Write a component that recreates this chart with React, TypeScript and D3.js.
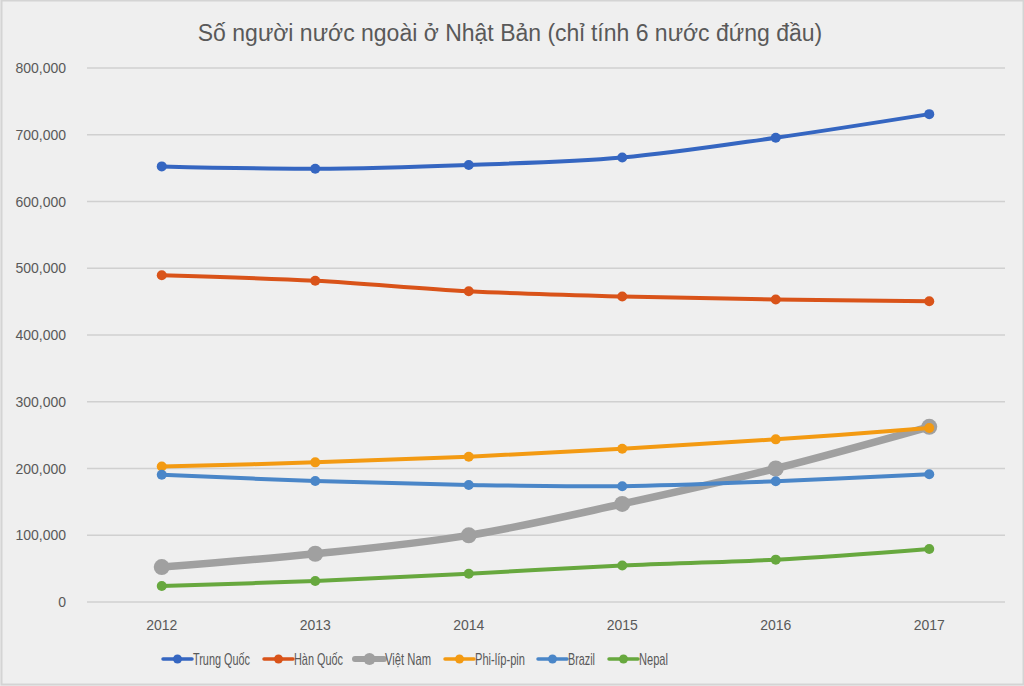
import React from "react";
import * as d3 from "d3";

const years = ["2012", "2013", "2014", "2015", "2016", "2017"];
const yTicks = [0, 100000, 200000, 300000, 400000, 500000, 600000, 700000, 800000];

const trungQuoc = [652595, 649078, 654777, 665847, 695522, 730890];
const hanQuoc = [489431, 481249, 465477, 457772, 453096, 450663];
const vietNam = [52367, 72256, 99865, 146956, 199990, 262405];
const philippines = [202985, 209183, 217585, 229595, 243662, 260553];
const brazil = [190609, 181317, 175410, 173437, 180923, 191362];
const nepal = [24071, 31537, 42346, 54775, 63470, 79500];

const seriesNames = ["Trung Quốc", "Hàn Quốc", "Việt Nam", "Phi-líp-pin", "Brazil", "Nepal"];
const seriesValues = [trungQuoc, hanQuoc, vietNam, philippines, brazil, nepal];
const seriesColors = ["#3566c1", "#d95319", "#a0a0a0", "#f39a12", "#4a86c8", "#67a83e"];
const seriesWidths = [4, 4, 7.5, 4, 4, 4];
const markerR = [5, 5, 8, 5, 5, 5];
const legendX = [163, 264, 355, 445, 538, 609];
const legendTextW = [57, 49, 46, 50, 27, 29];

const W = 1024;
const H = 686;
const font = "'Liberation Sans', Arial, sans-serif";
const textColor = "#595959";

export default function App() {
  const x = d3.scaleBand<string>().domain(years).range([85, 1006]);
  const y = d3.scaleLinear().domain([0, 800000]).range([602, 68]);
  const line = d3
    .line<number>()
    .x((_, i) => (x(years[i]) as number) + x.bandwidth() / 2)
    .y((d) => y(d))
    .curve(d3.curveCardinal.tension(0));
  const fmt = d3.format(",");

  return (
    <svg
      width={W}
      height={H}
      style={{ position: "absolute", left: 0, top: 0, display: "block" }}
      fontFamily={font}
    >
      <rect x={0} y={0} width={W} height={H} fill="#efefef" />
      <rect x={1.5} y={0.5} width={W - 2} height={H - 2} fill="none" stroke="#d4d4d4" strokeWidth={2} />
      <text x={510} y={41} textAnchor="middle" fontSize={23} fill={textColor}>
        Số người nước ngoài ở Nhật Bản (chỉ tính 6 nước đứng đầu)
      </text>
      {yTicks.map((t) => (
        <g key={t}>
          <line x1={87} x2={1005} y1={y(t)} y2={y(t)} stroke="#d0d0d0" strokeWidth={1.5} />
          <text x={66} y={y(t) + 5} textAnchor="end" fontSize={14} fill={textColor}>
            {fmt(t)}
          </text>
        </g>
      ))}
      {years.map((yr) => (
        <text
          key={yr}
          x={(x(yr) as number) + x.bandwidth() / 2}
          y={630}
          textAnchor="middle"
          fontSize={14}
          fill={textColor}
        >
          {yr}
        </text>
      ))}
      {seriesValues.map((vals, si) => (
        <g key={seriesNames[si]}>
          <path
            d={line(vals) as string}
            fill="none"
            stroke={seriesColors[si]}
            strokeWidth={seriesWidths[si]}
            strokeLinecap="round"
          />
          {vals.map((v, i) => (
            <circle
              key={i}
              cx={(x(years[i]) as number) + x.bandwidth() / 2}
              cy={y(v)}
              r={markerR[si]}
              fill={seriesColors[si]}
            />
          ))}
        </g>
      ))}
      {seriesNames.map((name, si) => (
        <g key={name} transform={`translate(${legendX[si]},659)`}>
          <line x1={0} x2={29} y1={0} y2={0} stroke={seriesColors[si]} strokeWidth={si === 2 ? 6 : 3.5} strokeLinecap="round" />
          <circle cx={14.5} cy={0} r={markerR[si] - (si === 2 ? 2 : 0.5)} fill={seriesColors[si]} />
          <text
            x={30}
            y={6}
            fontSize={17}
            fill={textColor}
            textLength={legendTextW[si]}
            lengthAdjust="spacingAndGlyphs"
          >
            {name}
          </text>
        </g>
      ))}
    </svg>
  );
}
